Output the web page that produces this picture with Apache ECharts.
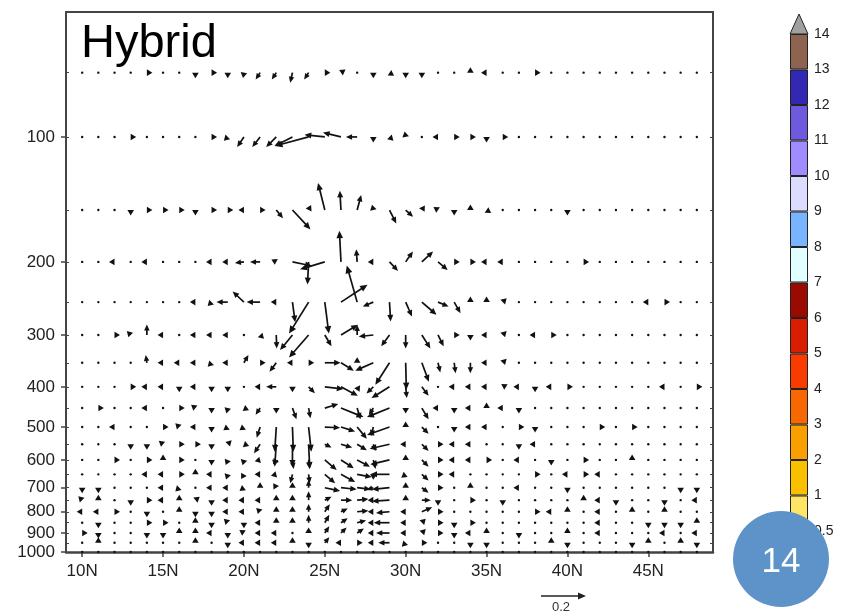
<!DOCTYPE html>
<html>
<head>
<meta charset="utf-8">
<script src="https://cdn.jsdelivr.net/npm/echarts@6/dist/echarts.min.js"></script>
<style>
  html, body { margin: 0; padding: 0; background: #fff; }
  #chart { width: 854px; height: 616px; }
</style>
</head>
<body>
<div id="chart"></div>
<script>
// grid of the vector field
const lats = [10, 11, 12, 13, 14, 15, 16, 17, 18, 19, 20, 21, 22, 23, 24, 25, 26, 27, 28, 29,
  30, 31, 32, 33, 34, 35, 36, 37, 38, 39, 40, 41, 42, 43, 44, 45, 46, 47, 48];
const levels = [70, 100, 150, 200, 250, 300, 350, 400, 450, 500, 550, 600, 650, 700, 750, 800, 850, 900, 950, 1000];

const latTicks = [10, 15, 20, 25, 30, 35, 40, 45];
const presTicks = [100, 200, 300, 400, 500, 600, 700, 800, 900, 1000];

// non-calm vectors per level: [lat, u, w]; every other grid point is calm (a dot)
const g = 0.018; // tiny vectors that only show their head
const v70 = [[14, g, 0], [17, 0, -g], [18, g, 0], [19, 0, -g], [20, -0.005, -0.03], [21, -0.02, -0.03],
  [22, -0.02, -0.03], [23, -0.01, -0.045], [24, -0.02, -0.03], [25, g, 0], [26, 0.015, 0.01], [28, 0, -g],
  [29, 0.015, -0.01], [30, 0, -g], [31, 0, -g], [34, 0, g], [35, -g, 0], [38, g, 0]];
const v100 = [[13, g, 0], [18, 0.015, 0], [19, -0.02, -0.02], [20, -0.03, -0.045], [21, -0.035, -0.045],
  [22, -0.045, -0.045], [23, -0.08, -0.04], [24, -0.15, -0.04], [25, -0.09, 0.01], [26, -0.08, 0.02],
  [27, -0.05, 0], [28, 0, -g], [29, 0.012, -0.012], [30, -0.005, 0.025], [32, -g, 0], [33, g, 0], [34, g, 0],
  [35, 0, -g], [36, g, 0]];
const v150 = [[13, 0, -g], [14, g, 0], [15, g, 0], [16, g, 0], [17, 0, -g], [18, g, 0], [19, g, 0], [20, -g, 0],
  [21, g, 0], [22, 0.03, -0.037], [23, 0.08, -0.086], [24, 0.01, 0.02], [25, -0.03, 0.12], [26, -0.005, 0.086],
  [27, 0.018, 0.067], [28, -0.005, 0.02], [29, 0.03, -0.06], [30, 0.033, -0.03], [31, 0.01, 0.015],
  [32, -0.015, 0.01], [33, 0, -g], [34, 0, g], [35, 0.012, -0.008], [40, 0, -g]];
const v200 = [[12, -g, 0], [14, -g, 0], [18, -g, 0], [19, -g, 0], [20, -0.04, -0.005], [21, -0.045, 0],
  [22, -0.01, 0.005], [23, 0.086, -0.018], [24, -0.005, -0.1], [25, -0.11, -0.033], [26, -0.007, 0.138],
  [27, -0.004, 0.056], [28, -g, 0], [29, 0.038, -0.04], [30, 0.032, 0.046], [31, 0.05, 0.046],
  [32, 0.043, -0.036], [33, g, 0], [34, g, 0], [35, -g, 0], [36, -g, 0], [41, g, 0]];
const v250 = [[17, -g, 0], [18, -0.015, -0.015], [19, -0.05, 0], [20, -0.05, 0.047], [21, -0.06, 0], [22, -g, 0],
  [23, 0.012, -0.09], [24, -0.087, -0.14], [25, 0.018, -0.14], [26, 0.118, 0.077], [27, -0.046, 0.163],
  [28, -0.047, -0.02], [29, 0.005, -0.086], [30, 0.028, -0.064], [31, 0.065, -0.056], [32, 0.047, -0.02],
  [33, 0.028, -0.049], [34, 0, g], [35, 0, g], [36, 0.01, 0.01], [45, -g, 0], [46, g, 0]];
const v300 = [[12, g, 0], [13, -0.01, 0.01], [14, 0, 0.047], [15, -g, 0], [17, -g, 0], [18, -g, 0], [19, -g, 0],
  [21, 0.015, -0.015], [22, 0.002, -0.06], [23, -0.055, -0.067], [24, -0.087, -0.1], [25, 0.03, -0.05],
  [26, 0.075, 0.045], [27, 0, 0.045], [28, -0.065, -0.007], [29, -0.037, -0.05], [30, 0, -0.06],
  [31, 0.038, -0.06], [32, 0.025, -0.05], [33, g, 0], [34, 0, -0.025], [35, -g, 0], [36, 0.01, 0.01],
  [38, -g, 0], [39, g, 0]];
const v350 = [[14, -0.005, 0.035], [15, -g, 0], [16, -g, 0], [17, -g, 0], [18, -0.02, -0.02], [19, -g, 0],
  [20, 0.02, 0.035], [21, g, 0], [22, -0.03, -0.04], [23, -g, 0], [24, g, 0], [25, 0.07, 0], [26, 0.057, -0.035],
  [27, 0, 0.02], [28, -0.08, -0.035], [29, -0.063, -0.098], [30, 0.003, -0.12], [31, 0.031, -0.084],
  [32, 0.01, -0.043], [33, 0.006, -0.047], [34, 0, -0.047], [35, -g, 0], [36, 0.01, 0.01]];
const v400 = [[13, g, 0], [14, -g, 0], [15, -g, 0], [16, 0, -g], [17, -g, 0], [18, 0, -g], [19, 0, -g], [21, -g, 0],
  [22, -0.045, 0], [23, 0, -0.012], [24, 0.028, -0.028], [25, 0.083, -0.01], [26, 0.075, -0.04], [27, 0.01, -0.02],
  [28, -0.03, -0.03], [29, -0.08, -0.05], [30, 0.005, -0.05], [31, 0.03, -0.04], [33, -g, 0], [34, -g, 0],
  [35, -g, 0], [36, 0.01, 0.005], [37, -g, 0], [38, 0, -g], [39, -g, 0], [40, g, 0], [46, -g, 0], [48, g, 0]];
const v450 = [[11, g, 0], [14, -g, 0], [16, g, 0], [17, -0.01, 0.008], [18, 0, -g], [19, -0.005, -0.02],
  [20, 0.012, -0.005], [21, -0.02, -0.03], [22, 0, -0.03], [23, 0.018, -0.05], [24, 0.008, -0.045],
  [25, 0.06, 0.018], [26, 0.1, -0.04], [27, 0.015, -0.05], [28, -0.02, -0.03], [29, -0.1, -0.04], [30, 0, -g],
  [31, 0.03, -0.05], [32, -g, 0], [33, 0, -g], [34, -g, 0], [35, 0, g], [36, -g, 0], [37, 0, -g]];
const v500 = [[12, -g, 0], [15, g, 0], [16, -0.008, 0.008], [17, -g, 0], [18, 0, -g], [19, -0.02, -0.015],
  [20, -0.02, -0.015], [21, -0.015, -0.047], [22, -0.007, -0.11], [23, 0.004, -0.11], [24, 0.012, -0.11],
  [25, 0.068, -0.003], [26, 0.063, -0.02], [27, 0.043, -0.052], [28, -0.01, -0.04], [29, -0.1, -0.035],
  [30, 0, g], [31, 0.03, -0.03], [33, 0, -g], [34, -g, 0], [35, -g, 0], [37, g, 0], [38, 0, -g], [42, g, 0],
  [44, g, 0]];
const v550 = [[13, 0, -g], [14, 0, -g], [15, -0.01, 0.008], [16, g, 0], [17, g, 0], [18, 0, -g], [19, 0.008, 0.008],
  [20, 0.015, -0.005], [21, -0.027, -0.04], [22, -0.007, -0.1], [23, 0, -0.1], [24, 0.005, -0.11],
  [25, 0.03, -0.015], [26, 0.05, -0.015], [27, 0.043, -0.027], [28, 0.01, -0.03], [29, -0.088, -0.02],
  [30, -g, 0], [31, 0.03, -0.03], [32, g, 0], [33, -g, 0], [34, -g, 0], [37, 0, -g], [38, -g, 0]];
const v600 = [[12, g, 0], [14, g, 0], [15, 0, g], [16, g, 0], [18, 0, -g], [19, -0.008, -0.02], [20, -0.005, -0.02],
  [21, -0.02, -0.005], [22, -0.015, -0.02], [23, 0.005, -0.04], [24, 0.005, -0.04], [25, 0.053, -0.045],
  [26, 0.057, -0.037], [27, 0.057, -0.03], [28, 0.01, -0.04], [29, -0.085, -0.02], [30, 0, g], [31, 0.03, -0.03],
  [32, g, 0], [33, -g, 0], [34, -g, 0], [35, g, 0], [37, -g, 0], [39, 0, -g], [41, g, 0], [44, 0, g]];
const v650 = [[14, -g, 0], [15, -g, 0], [16, g, 0], [17, 0, g], [18, -g, 0], [19, -0.008, -0.025],
  [20, -0.015, -0.025], [21, -g, 0], [22, -0.02, -0.005], [23, -0.01, -0.04], [24, 0.005, -0.04],
  [25, 0.046, -0.04], [26, 0.063, -0.034], [27, 0.065, -0.012], [28, 0, -0.03], [29, -0.085, 0],
  [30, -0.02, -0.015], [31, 0.03, -0.027], [32, g, 0], [33, -g, 0], [38, g, 0], [40, -g, 0], [41, g, 0], [42, -g, 0]];
const v700 = [[10, 0, -g], [11, 0, -g], [15, -g, 0], [16, -0.008, -0.008], [18, -g, 0], [19, -0.025, 0],
  [20, -0.02, -0.015], [21, 0, g], [22, -0.01, 0.015], [23, 0, 0.03], [24, 0, 0.035], [25, 0.068, -0.015],
  [26, 0.07, -0.007], [27, 0.06, -0.007], [28, -0.03, -0.01], [29, -0.078, -0.007], [30, 0, g],
  [31, 0.03, -0.022], [32, g, 0], [34, 0, g], [37, -g, 0], [40, 0, -g], [47, 0, -g], [48, 0, -g]];
const v750 = [[10, -0.008, 0.008], [11, 0, g], [13, 0, -g], [14, g, 0], [15, -g, 0], [16, 0, g], [17, 0.01, 0.008],
  [18, 0, -g], [19, -g, 0], [20, -g, 0], [21, -g, 0], [22, 0, 0.025], [23, 0, 0.03], [24, 0, 0.04],
  [25, 0.03, 0.015], [26, 0.05, 0], [27, 0.05, 0.005], [28, -0.03, 0], [29, -0.078, -0.005], [30, 0, g],
  [31, 0.04, 0], [32, 0, -g], [34, g, 0], [36, 0, -g], [41, 0, g], [42, -g, 0], [43, 0, -g], [46, 0, -g], [48, -g, 0]];
const v800 = [[10, -g, 0], [11, -g, 0], [12, g, 0], [14, 0, -g], [16, 0, g], [17, 0, -g], [18, 0, -g], [19, -g, 0],
  [20, -g, 0], [21, -0.015, 0.015], [22, 0, 0.025], [23, 0, 0.03], [24, 0, 0.035], [25, 0.022, 0.034],
  [26, 0.03, 0.015], [27, 0.05, 0.005], [28, -0.03, 0], [29, -0.06, -0.005], [30, -g, 0], [31, 0.046, 0.02],
  [32, g, 0], [38, g, 0], [39, -g, 0], [40, 0, g], [42, -g, 0], [44, 0, g], [46, 0, g]];
const v850 = [[11, 0, -g], [14, g, 0], [15, g, 0], [17, 0, g], [18, 0, -g], [19, -0.015, 0.015], [20, 0, -g],
  [21, -g, 0], [22, 0, 0.025], [23, 0, 0.03], [24, 0, 0.035], [25, 0.02, 0.035], [26, 0.03, 0.02],
  [27, 0.04, 0.01], [28, -0.03, 0], [29, -0.07, 0], [30, -g, 0], [31, 0.012, 0.012], [32, g, 0], [33, 0, -g],
  [34, g, 0], [42, -g, 0], [45, 0, -g], [46, 0, -g], [47, 0, -g], [48, 0, g]];
const v900 = [[10, g, 0], [11, 0, -g], [14, 0, -g], [15, 0, -g], [16, 0, g], [17, 0, g], [18, -g, 0], [19, 0, -g],
  [20, -0.015, 0.01], [21, -g, 0], [22, -g, 0], [24, 0, g], [25, 0.02, 0.03], [26, 0.025, 0.025],
  [27, 0.03, 0.02], [28, -0.03, 0], [29, -0.06, 0], [30, -g, 0], [31, 0.012, 0.012], [32, g, 0], [33, 0, -g],
  [34, -g, 0], [35, 0, g], [37, 0, -g], [40, 0, g], [42, -g, 0], [46, -g, 0], [48, -g, 0]];
const v950 = [[11, 0, g], [17, 0, g], [19, 0, -g], [20, -g, 0], [21, -g, 0], [22, -g, 0], [23, 0, g], [24, 0, -g],
  [25, 0.02, 0.025], [26, -g, 0], [27, 0.03, 0], [28, -0.03, 0], [29, -0.05, 0], [30, -0.015, -0.015], [31, g, 0],
  [34, 0, -g], [35, 0, -g], [39, 0, g], [40, 0, -g], [44, 0, -g], [45, 0, g], [47, 0, g], [48, 0, -g]];
const v1000 = [];
const rows = [v70, v100, v150, v200, v250, v300, v350, v400, v450, v500, v550, v600, v650, v700, v750,
  v800, v850, v900, v950, v1000];

// colour bar
const cbLabels = ['0.5', '1', '2', '3', '4', '5', '6', '7', '8', '9', '10', '11', '12', '13', '14'];
const cbColors = ['#FFE566', '#FAC000', '#F9A000', '#F86800', '#F83C00', '#D81E00', '#9A0A00',
  '#E0FFFF', '#78B4FF', '#DCDCFF', '#A08CFF', '#6E5ADC', '#3228B4', '#8C6450'];
const cbOver = '#A0A0A0';

const refVector = 0.2;
const PX_PER_UNIT = 225; // length of one vector unit on screen

const vecData = [];
levels.forEach((p, i) => {
  lats.forEach(lat => {
    const hit = rows[i].find(r => r[0] === lat);
    vecData.push([lat, p, hit ? hit[1] : 0, hit ? hit[2] : 0]);
  });
});

function arrowShapes(x0, y0, dx, dy, color) {
  const len = Math.hypot(dx, dy);
  if (len < 0.5) {
    return [{ type: 'circle', shape: { cx: x0, cy: y0, r: 1.2 }, style: { fill: color } }];
  }
  const ux = dx / len, uy = dy / len;
  const small = len < 7;
  const head = small ? 5.5 : Math.min(8, 5.5 + len * 0.06);
  const half = small ? 3.3 : head * 0.45;
  const tipX = small ? x0 + ux * head : x0 + dx;
  const tipY = small ? y0 + uy * head : y0 + dy;
  const bx = tipX - ux * head, by = tipY - uy * head;
  const out = [];
  if (!small) {
    out.push({ type: 'line', shape: { x1: x0, y1: y0, x2: bx + ux, y2: by + uy },
      style: { stroke: color, lineWidth: 1.7 } });
  }
  out.push({ type: 'polygon', shape: { points: [[tipX, tipY], [bx - uy * half, by + ux * half], [bx + uy * half, by - ux * half]] },
    style: { fill: color } });
  return out;
}

const chart = echarts.init(document.getElementById('chart'), null, { renderer: 'canvas' });

const cbSeries = cbColors.map((c, i) => ({
  type: 'bar',
  xAxisIndex: 2,
  yAxisIndex: 3,
  stack: 'cb',
  barWidth: '100%',
  data: [1],
  itemStyle: { color: c, borderColor: '#222', borderWidth: 1 },
  silent: true
}));

const axisFont = { fontFamily: 'Liberation Sans, Arial, sans-serif', color: '#222' };

chart.setOption({
  animation: false,
  grid: [
    { left: 66, right: 141, top: 12, bottom: 64 },
    { left: 790, width: 18, top: 34, height: 497 }
  ],
  xAxis: [
    {
      type: 'value', gridIndex: 0, min: 9, max: 49, position: 'bottom',
      axisLine: { show: true, lineStyle: { color: '#444', width: 2.5 } },
      axisTick: { show: true, length: 5, customValues: latTicks, lineStyle: { color: '#444', width: 1.5 } },
      axisLabel: { customValues: latTicks, formatter: v => v + 'N', fontSize: 17, margin: 11, ...axisFont },
      splitLine: { show: false }
    },
    {
      type: 'value', gridIndex: 0, min: 9, max: 49, position: 'top',
      axisLine: { show: true, lineStyle: { color: '#444', width: 2 } },
      axisTick: { show: false }, axisLabel: { show: false }, splitLine: { show: false }
    },
    { type: 'category', gridIndex: 1, data: ['cb'], show: false }
  ],
  yAxis: [
    {
      type: 'log', gridIndex: 0, logBase: 10, min: 50, max: 1000, inverse: true, position: 'left',
      axisLine: { show: true, lineStyle: { color: '#444', width: 2 } },
      axisTick: { show: true, length: 5, customValues: presTicks, lineStyle: { color: '#444', width: 1.5 } },
      axisLabel: { customValues: presTicks, formatter: v => String(v), fontSize: 17, margin: 11, ...axisFont },
      splitLine: { show: false }
    },
    {
      type: 'log', gridIndex: 0, logBase: 10, min: 50, max: 1000, inverse: true, position: 'left',
      axisLine: { show: false },
      axisTick: { show: true, inside: true, length: 3, customValues: levels, lineStyle: { color: '#444' } },
      axisLabel: { show: false }, splitLine: { show: false }
    },
    {
      type: 'log', gridIndex: 0, logBase: 10, min: 50, max: 1000, inverse: true, position: 'right',
      axisLine: { show: true, lineStyle: { color: '#444', width: 2 } },
      axisTick: { show: true, inside: true, length: 3, customValues: levels, lineStyle: { color: '#444' } },
      axisLabel: { show: false }, splitLine: { show: false }
    },
    {
      type: 'value', gridIndex: 1, min: 0, max: 14, interval: 1, position: 'right',
      axisLine: { show: false }, axisTick: { show: false }, splitLine: { show: false },
      axisLabel: { formatter: v => cbLabels[v], fontSize: 14, margin: 6, ...axisFont }
    }
  ],
  series: [
    {
      type: 'custom',
      xAxisIndex: 0,
      yAxisIndex: 0,
      data: vecData,
      silent: true,
      renderItem: (params, api) => {
        const pt = api.coord([api.value(0), api.value(1)]);
        const dx = api.value(2) * PX_PER_UNIT;
        const dy = -api.value(3) * PX_PER_UNIT;
        return { type: 'group', children: arrowShapes(pt[0], pt[1], dx, dy, '#111') };
      }
    },
    ...cbSeries
  ],
  graphic: [
    {
      type: 'text', left: 81, top: 21,
      style: { text: 'Hybrid', fontSize: 47, fontFamily: 'Liberation Sans, Arial, sans-serif', fill: '#000' }
    },
    {
      type: 'polygon',
      shape: { points: [[790, 34], [808, 34], [799, 14]] },
      style: { fill: cbOver, stroke: '#222', lineWidth: 1 }
    },
    {
      type: 'group',
      children: arrowShapes(541, 596, refVector * PX_PER_UNIT, 0, '#222')
    },
    {
      type: 'text', x: 561, y: 601,
      style: { text: String(refVector), fontSize: 13, fontFamily: 'Liberation Sans, Arial, sans-serif', fill: '#333', align: 'center' }
    },
    {
      type: 'circle', z: 100,
      shape: { cx: 781, cy: 559, r: 48 },
      style: { fill: '#5E93C9' }
    },
    {
      type: 'text', z: 101, x: 781, y: 562,
      style: { text: '14', fontSize: 35, fontFamily: 'Liberation Sans, Arial, sans-serif', fill: '#fff', align: 'center', verticalAlign: 'middle' }
    }
  ]
});
</script>
</body>
</html>
